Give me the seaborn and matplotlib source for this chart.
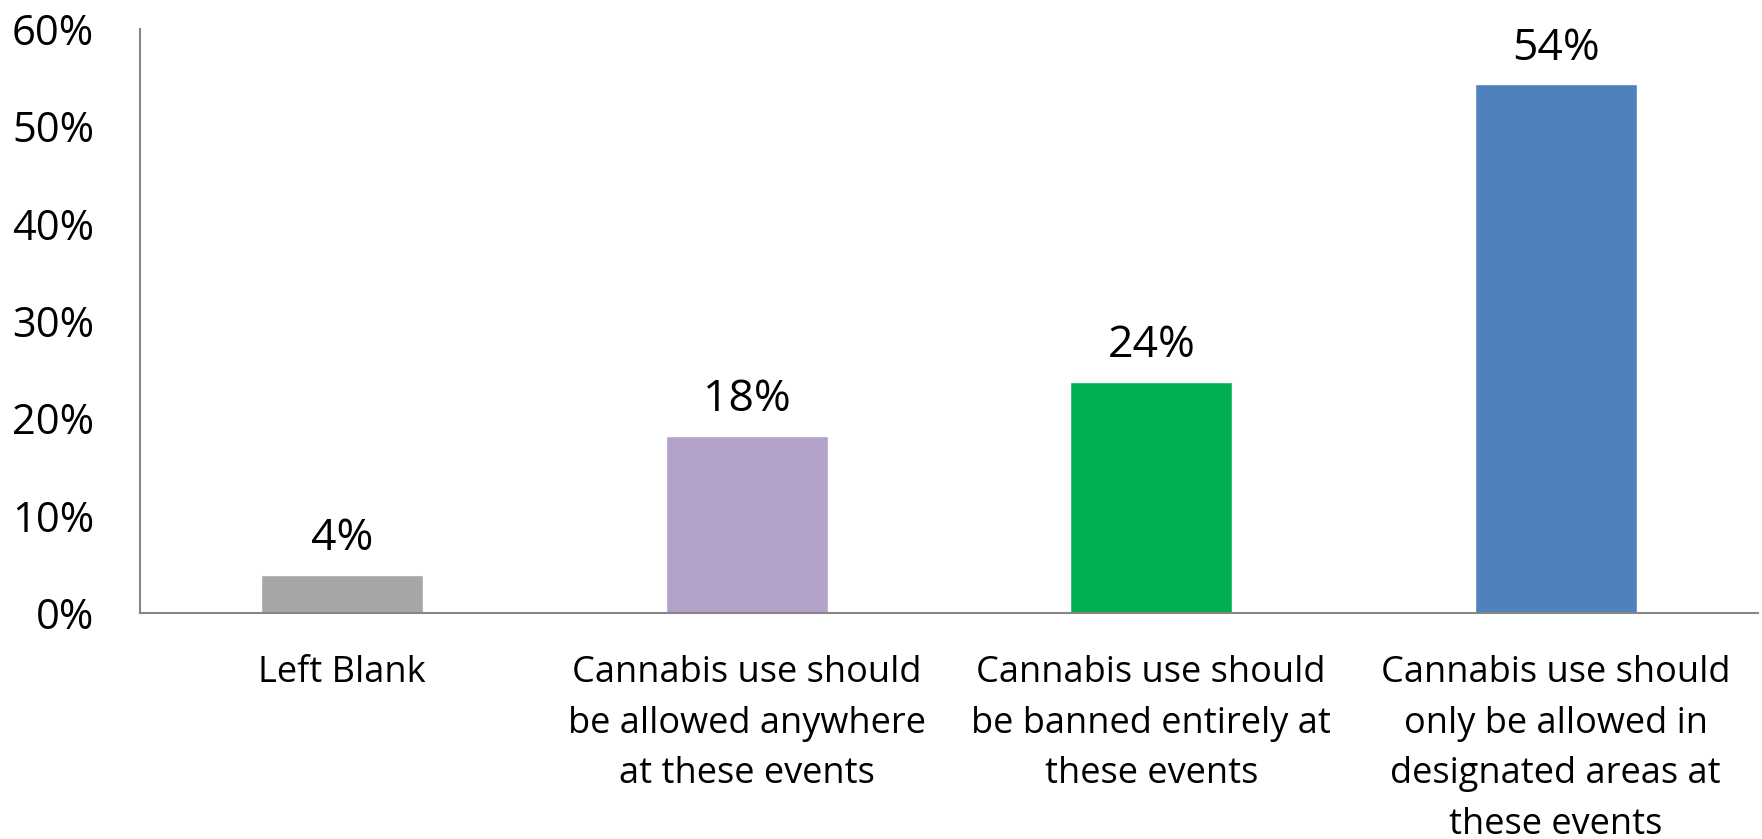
import matplotlib
matplotlib.use("Agg")
import matplotlib.pyplot as plt
import seaborn as sns

# chart data
categories = [
    "Left Blank",
    "Cannabis use should\nbe allowed anywhere\nat these events",
    "Cannabis use should\nbe banned entirely at\nthese events",
    "Cannabis use should\nonly be allowed in\ndesignated areas at\nthese events",
]
shares = [3.9, 18.2, 23.7, 54.3]
bar_colors = ["#A6A6A6", "#B3A2C7", "#00B050", "#4F81BD"]
y_ticks = [0, 10, 20, 30, 40, 50, 60]

sns.set_style("white")
plt.rcParams["font.family"] = ["Open Sans", "DejaVu Sans"]
plt.rcParams["text.color"] = "black"
plt.rcParams["xtick.labelcolor"] = "black"
plt.rcParams["ytick.labelcolor"] = "black"
axis_grey = "#868686"

fig = plt.figure(figsize=(17.62, 8.39), dpi=100)
ax = fig.add_axes([140 / 1762, 1 - 613 / 839, (1758 - 140) / 1762, (613 - 29) / 839])

sns.barplot(x=categories, y=shares, hue=categories, palette=bar_colors,
            width=0.4, legend=False, saturation=1, ax=ax)

ax.set_ylim(0, 60)
ax.set_xlim(-0.5, len(categories) - 0.5)
ax.set_yticks(y_ticks)
ax.set_yticklabels([f"{v}%" for v in y_ticks], fontsize=30)

# category boundaries get the tick marks, centres get the labels
ax.set_xticks([i - 0.5 for i in range(len(categories) + 1)])
ax.set_xticklabels([])
ax.set_xticks(range(len(categories)), minor=True)
ax.set_xticklabels(categories, minor=True, fontsize=26, linespacing=1.55)
ax.tick_params(axis="x", which="major", direction="out", length=10, width=1.5, color=axis_grey)
ax.tick_params(axis="x", which="minor", length=0, pad=30)
ax.tick_params(axis="y", direction="out", length=11, width=1.5, color=axis_grey, pad=22)
ax.set_xlabel("")
ax.set_ylabel("")

for side in ["top", "right"]:
    ax.spines[side].set_visible(False)
for side in ["left", "bottom"]:
    ax.spines[side].set_color(axis_grey)
    ax.spines[side].set_linewidth(1.5)

for i, v in enumerate(shares):
    ax.annotate(f"{round(v)}%", (i, v), xytext=(0, 10), textcoords="offset points",
                ha="center", va="bottom", fontsize=32, color="black")

fig.savefig("out.png", dpi=100)
